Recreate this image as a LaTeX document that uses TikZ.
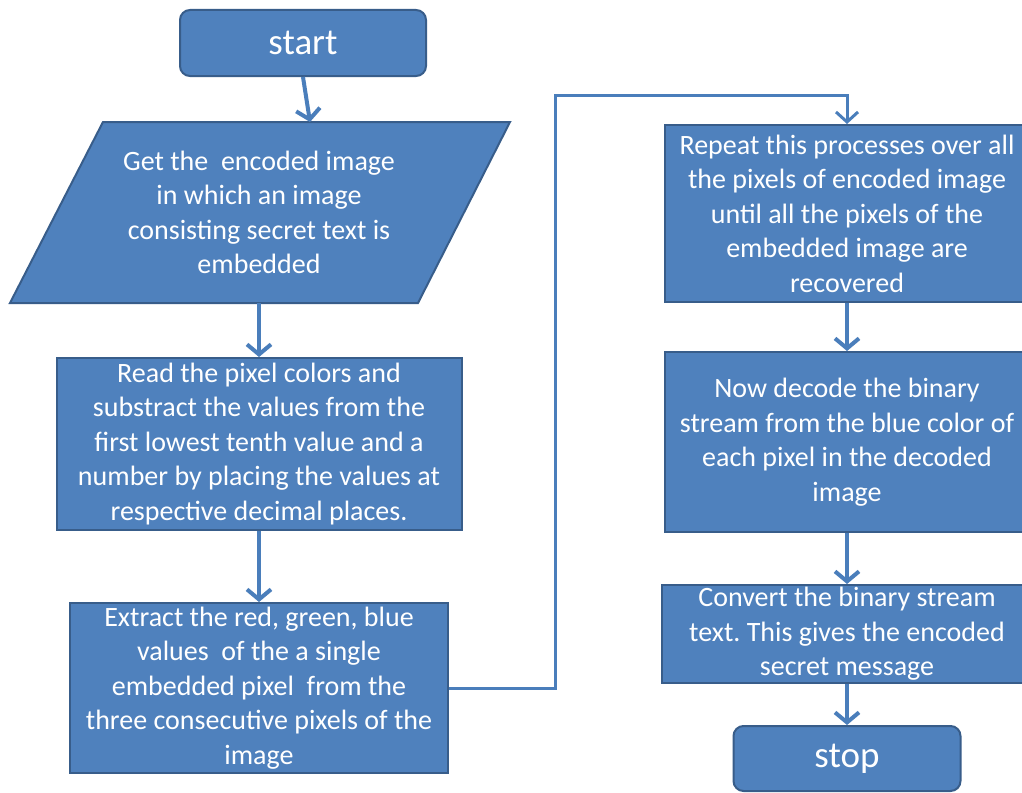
\documentclass[tikz,border=0pt]{standalone}
\usepackage{fontspec}
\setmainfont{Carlito}
\frenchspacing
\usetikzlibrary{arrows.meta}
\definecolor{boxfill}{HTML}{4F81BD}
\definecolor{boxline}{HTML}{385D8A}
\definecolor{arrowc}{HTML}{4A7EBB}
\tikzset{
  procbox/.style={draw=boxline, line width=2pt, fill=boxfill, text=white, align=center, inner sep=0pt,
    font=\fontsize{28}{34.5}\selectfont},
  termbox/.style={procbox, rounded corners=10pt, font=\fontsize{37}{40}\selectfont},
  flow/.style={draw=arrowc, line width=4pt, -{Straight Barb[length=10pt,width=24pt]}},
  link/.style={draw=arrowc, line width=3pt, -{Straight Barb[length=10pt,width=22pt]}}
}
\begin{document}
\begin{tikzpicture}[x=1pt,y=-1pt]
\useasboundingbox (0,0) rectangle (1022,792);
\fill[white] (0,0) rectangle (1022,792);

% start
\node[termbox, minimum width=246pt, minimum height=66pt] (start) at (303,43) {start};

% parallelogram
\draw[draw=boxline, line width=2pt, fill=boxfill] (103,122) -- (510,122) -- (418,303) -- (10,303) -- cycle;
\node[text=white, align=center, inner sep=0pt, minimum width=300pt, minimum height=181pt,
  font=\fontsize{28}{34.5}\selectfont] (para) at (259,212.5)
  {Get the \ encoded image\\in which an image\\consisting secret text is\\embedded};
\coordinate (paratop) at (310,122);

% left column boxes
\node[procbox, minimum width=405pt, minimum height=172pt] (read) at (259,444)
  {Read the pixel colors and\\substract the values from the\\first lowest tenth value and a\\number by placing the values at\\respective decimal places.};
\node[procbox, minimum width=378pt, minimum height=170pt] (extract) at (259,688)
  {Extract the red, green, blue\\values \ of the a single\\embedded pixel \ from the\\three consecutive pixels of the\\image};

% right column boxes
\node[procbox, minimum width=364pt, minimum height=177pt] (repeat) at (847,213.5)
  {Repeat this processes over all\\the pixels of encoded image\\until all the pixels of the\\embedded image are\\recovered};
\node[procbox, minimum width=364pt, minimum height=180pt] (decode) at (847,442)
  {Now decode the binary\\stream from the blue color of\\each pixel in the decoded\\image};
\node[procbox, minimum width=370pt, minimum height=98pt] (convert) at (847,634)
  {Convert the binary stream\\text. This gives the encoded\\secret message};
\node[termbox, minimum width=227pt, minimum height=65pt] (stop) at (847,758.5) {stop};

\coordinate (corner) at (555,95);

% connectors
\draw[flow] (start.south) -- (paratop);
\draw[flow] (para.south) -- (read.north);
\draw[flow] (read.south) -- (extract.north);
\draw[link] (extract.east) -| (corner) -| (repeat.north);
\draw[flow] (repeat.south) -- (decode.north);
\draw[flow] (decode.south) -- (convert.north);
\draw[flow] (convert.south) -- (stop.north);
\end{tikzpicture}
\end{document}
